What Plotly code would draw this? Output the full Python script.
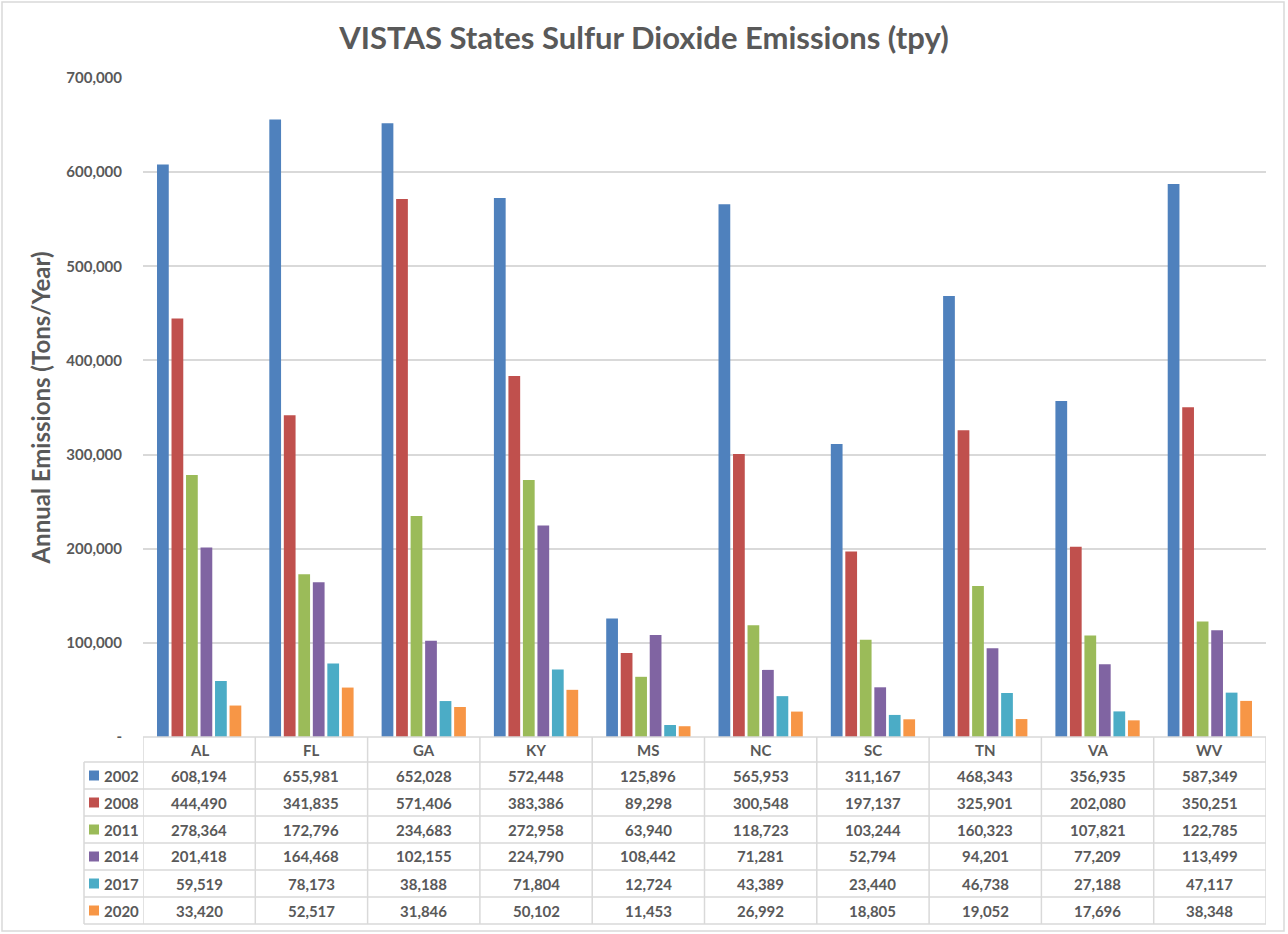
import plotly.graph_objects as go

states = ["AL", "FL", "GA", "KY", "MS", "NC", "SC", "TN", "VA", "WV"]
years = ["2002", "2008", "2011", "2014", "2017", "2020"]
so2_2002 = [608194, 655981, 652028, 572448, 125896, 565953, 311167, 468343, 356935, 587349]
so2_2008 = [444490, 341835, 571406, 383386, 89298, 300548, 197137, 325901, 202080, 350251]
so2_2011 = [278364, 172796, 234683, 272958, 63940, 118723, 103244, 160323, 107821, 122785]
so2_2014 = [201418, 164468, 102155, 224790, 108442, 71281, 52794, 94201, 77209, 113499]
so2_2017 = [59519, 78173, 38188, 71804, 12724, 43389, 23440, 46738, 27188, 47117]
so2_2020 = [33420, 52517, 31846, 50102, 11453, 26992, 18805, 19052, 17696, 38348]
y_ticks = [0, 100000, 200000, 300000, 400000, 500000, 600000, 700000]

series = [so2_2002, so2_2008, so2_2011, so2_2014, so2_2017, so2_2020]
colors = ["#4F81BD", "#C0504D", "#9BBB59", "#8064A2", "#4BACC6", "#F79646"]

W, H = 1288, 934
L, R, T, B = 143, 1266, 78, 737   # plot area in pixels
TXT = "#595959"
GRID = "#D9D9D9"
FONT = "Lato"


def px_x(px):
    return (px - L) / (R - L)


def px_y(py):
    return (B - py) / (B - T)


fig = go.Figure()
for yr, vals, col in zip(years, series, colors):
    fig.add_trace(go.Bar(x=states, y=vals, name=yr, marker_color=col,
                         marker_line_width=0, hoverinfo="x+y+name"))

# table geometry (pixels)
header_bot = 762
row_h = 27
row_tops = [header_bot + i * row_h for i in range(len(years))]
table_bot = row_tops[-1] + row_h
key_left = 84

shapes = []
ann = []

# outer chart border
shapes.append(dict(type="rect", xref="paper", yref="paper",
                   x0=px_x(2), x1=px_x(1284), y0=px_y(931), y1=px_y(2),
                   line=dict(color="#D9D9D9", width=1.5)))

# table horizontal lines
shapes.append(dict(type="line", xref="paper", yref="paper", x0=0, x1=1,
                   y0=px_y(B), y1=px_y(B), line=dict(color=GRID, width=1.5)))
for yy in row_tops + [table_bot]:
    shapes.append(dict(type="line", xref="paper", yref="paper",
                       x0=px_x(key_left), x1=1, y0=px_y(yy), y1=px_y(yy),
                       line=dict(color=GRID, width=1.5)))
# table vertical lines
for i in range(len(states) + 1):
    shapes.append(dict(type="line", xref="x", yref="paper", x0=i - 0.5, x1=i - 0.5,
                       y0=px_y(B), y1=px_y(table_bot), line=dict(color=GRID, width=1.5)))
shapes.append(dict(type="line", xref="paper", yref="paper", x0=px_x(key_left), x1=px_x(key_left),
                   y0=px_y(header_bot), y1=px_y(table_bot), line=dict(color=GRID, width=1.5)))

cell_font = dict(family=FONT, size=15, color=TXT)

# header row with state names
for s in states:
    ann.append(dict(x=s, xref="x", y=px_y((B + header_bot) / 2), yref="paper",
                    xanchor="center", yanchor="middle",
                    text="<b>" + s + "</b>", showarrow=False, font=cell_font))

# data rows with legend keys
for yr, vals, col, top in zip(years, series, colors, row_tops):
    yc = px_y(top + row_h / 2)
    shapes.append(dict(type="rect", xref="paper", yref="paper",
                       x0=px_x(89), x1=px_x(99), y0=px_y(top + row_h / 2 + 5),
                       y1=px_y(top + row_h / 2 - 5), fillcolor=col, line_width=0))
    ann.append(dict(x=px_x(102), xref="paper", y=yc, yref="paper",
                    xanchor="left", yanchor="middle",
                    text="<b>" + yr + "</b>", showarrow=False, font=cell_font))
    for s, v in zip(states, vals):
        ann.append(dict(x=s, xref="x", y=yc, yref="paper", xanchor="center", yanchor="middle",
                        text="<b>{:,}</b>".format(v), showarrow=False, font=cell_font))

fig.update_layout(
    width=W, height=H,
    margin=dict(l=L, r=W - R, t=T, b=H - B),
    paper_bgcolor="white", plot_bgcolor="white",
    barmode="group", bargap=0.225, bargroupgap=0.19,
    showlegend=False,
    title=dict(text="<b>VISTAS States Sulfur Dioxide Emissions (tpy)</b>",
               x=0.5, xanchor="center", y=1 - 38 / H, yanchor="middle",
               font=dict(family=FONT, size=31, color=TXT)),
    font=dict(family=FONT, color=TXT),
    shapes=shapes, annotations=ann,
)
fig.update_xaxes(showticklabels=False, showgrid=False, showline=False, zeroline=False,
                 range=[-0.5, len(states) - 0.5])
fig.update_yaxes(range=[0, 700000], tickvals=y_ticks,
                 ticktext=["<b>-</b>"] + ["<b>{:,}</b>".format(v) for v in y_ticks[1:]],
                 showgrid=True, gridcolor=GRID, gridwidth=1.5, zeroline=False, showline=False,
                 ticklabelstandoff=20, tickfont=dict(family=FONT, size=15, color=TXT),
                 title=dict(text="<b>Annual Emissions (Tons/Year)</b>", standoff=8,
                            font=dict(family=FONT, size=24, color=TXT)))

fig.write_html("out.html", config={"displayModeBar": False},
               post_script="document.body.style.margin='0';document.body.style.overflow='hidden';")
